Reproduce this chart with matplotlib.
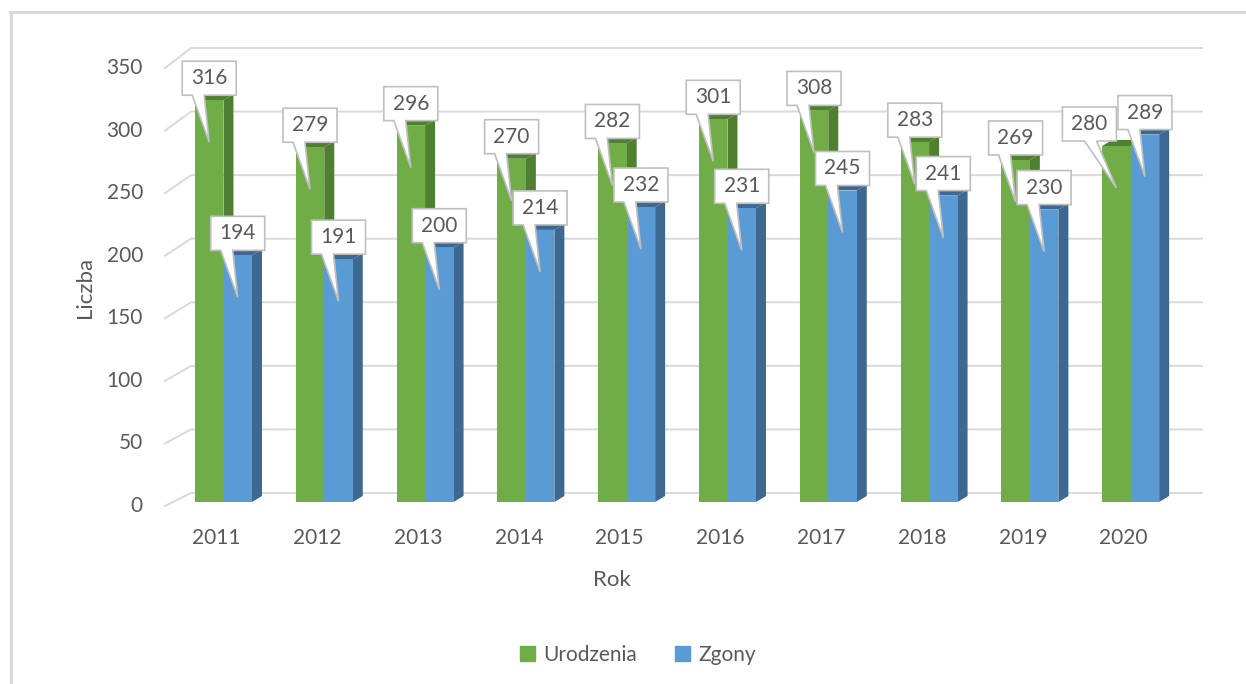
import numpy as np
import matplotlib
matplotlib.use('Agg')
import matplotlib.pyplot as plt
from matplotlib.patches import Polygon, Patch
from matplotlib.lines import Line2D
from matplotlib.transforms import Affine2D, ScaledTranslation

# data
years = ['2011', '2012', '2013', '2014', '2015', '2016', '2017', '2018', '2019', '2020']
urodzenia = [316, 279, 296, 270, 282, 301, 308, 283, 269, 280]
zgony = [194, 191, 200, 214, 232, 231, 245, 241, 230, 289]
y_ticks = [0, 50, 100, 150, 200, 250, 300, 350]

# horizontal nudges (px) for callouts that Excel moved
green_label_dx = [0, 0, 0, 0, 0, 0, 0, 0, 0, -27]
blue_label_dx = [0, 0, 0, 0, 0, 0, 0, 0, 0, 0]

plt.rcParams['font.family'] = ['Lato', 'DejaVu Sans']
TXT = '#595959'
GRID = '#D9D9D9'
GREEN, GREEN_D = '#70AD47', '#4F7F30'
BLUE, BLUE_D = '#5B9BD5', '#3D6892'

W_PX, H_PX = 1246, 684
fig = plt.figure(figsize=(W_PX / 100, H_PX / 100), dpi=100)

# axes = front plane of the 3d chart
ax_l, ax_r, ax_b, ax_t = 165, 1176, 502, 57
ax = fig.add_axes([ax_l / W_PX, 1 - ax_b / H_PX, (ax_r - ax_l) / W_PX, (ax_b - ax_t) / H_PX])
n = len(years)
x = np.arange(n)
cat_px = 100.8
xmin = -0.58
ax.set_xlim(xmin, xmin + (ax_r - ax_l) / cat_px)
ax.set_ylim(0, 350)
for s in ax.spines.values():
    s.set_visible(False)

PX_X = 1 / cat_px                 # data x per pixel
PX_Y = 350 / (ax_b - ax_t)        # data y per pixel
AX_PX = 1 / (ax_r - ax_l)         # axes fraction per pixel

# gridlines on the back wall + diagonal on the side wall
ytr = ax.get_yaxis_transform()
for v in y_ticks:
    fv = v * (1.2514 / 1.2714) - 4 * PX_Y
    bv = v + 9 * PX_Y
    ax.plot([0, 26 * AX_PX, 1 + 26 * AX_PX], [fv, bv, bv], transform=ytr,
            color=GRID, lw=1.4, zorder=0, clip_on=False)
    ax.text(0, fv, str(v), transform=ytr + ScaledTranslation(-0.22, 0, fig.dpi_scale_trans),
            ha='right', va='center', fontsize=15, color=TXT)

bw = 28.5 * PX_X
DX, DY = 10 * PX_X, 6 * PX_Y


def bar3d(xl, vals, front, dark):
    for xi, v in zip(xl, vals):
        xr = xi + bw
        side = [(xr, 0), (xr + DX, DY), (xr + DX, v + DY), (xr, v)]
        top = [(xi, v), (xi + DX, v + DY), (xr + DX, v + DY), (xr, v)]
        ax.add_patch(Polygon(side, closed=True, fc=dark, ec='none', zorder=2))
        ax.add_patch(Polygon(top, closed=True, fc=dark, ec='none', zorder=2))
    ax.bar(xl, vals, width=bw, align='edge', color=front, zorder=3)


bar3d(x - bw, urodzenia, GREEN, GREEN_D)
bar3d(x, zgony, BLUE, BLUE_D)


def callout(xc, v, dx, z):
    # box 54x34 px sitting 5 px above the bar top, pointer down into the bar
    L, R = dx - 27, dx + 27
    B, T = 5, 39
    bl = min(max(L + 2, dx - 17 - dx * 0.45), R - 14)
    verts = [(L, B), (bl, B), (0, -42), (bl + 12, B), (R, B), (R, T), (L, T)]
    tr = Affine2D() + ScaledTranslation(xc, v, ax.transData)
    ax.add_patch(Polygon(verts, closed=True, fc='white', ec='#BFBFBF', lw=1.2,
                         transform=tr, zorder=z, clip_on=False))
    ax.annotate(str(v), xy=(xc, v), xytext=(dx * 0.72, (B + T) / 2 * 0.72),
                textcoords='offset points', ha='center', va='center',
                fontsize=15, color=TXT, zorder=z + 0.5)


for i in range(n):
    callout(x[i] - bw / 2, urodzenia[i], green_label_dx[i], 5)
for i in range(n):
    callout(x[i] + bw / 2, zgony[i], blue_label_dx[i], 6)

ax.set_yticks([])
ax.set_xticks(x)
ax.set_xticklabels(years, fontsize=15, color=TXT)
ax.tick_params(axis='x', length=0, pad=19)
for lab in ax.get_xticklabels():
    lab.set_transform(lab.get_transform() + ScaledTranslation(-0.07, 0, fig.dpi_scale_trans))

fig.text(612 / W_PX, 1 - 580 / H_PX, 'Rok', ha='center', va='center', fontsize=16, color=TXT)
fig.text(85 / W_PX, 1 - 287 / H_PX, 'Liczba', ha='center', va='center', rotation=90,
         fontsize=16, color=TXT)

handles = [Patch(color=GREEN, label='Urodzenia'), Patch(color=BLUE, label='Zgony')]
leg = fig.legend(handles=handles, loc='center', bbox_to_anchor=(638 / W_PX, 1 - 655 / H_PX),
                 ncol=2, frameon=False, handlelength=0.75, handleheight=0.75,
                 handletextpad=0.4, columnspacing=1.8, fontsize=15)
for t in leg.get_texts():
    t.set_color(TXT)

# outer chart border (only left and top edges visible in the crop)
fig.add_artist(Line2D([10.5 / W_PX, 10.5 / W_PX], [0, 1 - 12 / H_PX], color=GRID, lw=2.2,
                      transform=fig.transFigure))
fig.add_artist(Line2D([10 / W_PX, 1], [1 - 12 / H_PX, 1 - 12 / H_PX], color=GRID, lw=2.2,
                      transform=fig.transFigure))

fig.savefig('out.png', dpi=100)
